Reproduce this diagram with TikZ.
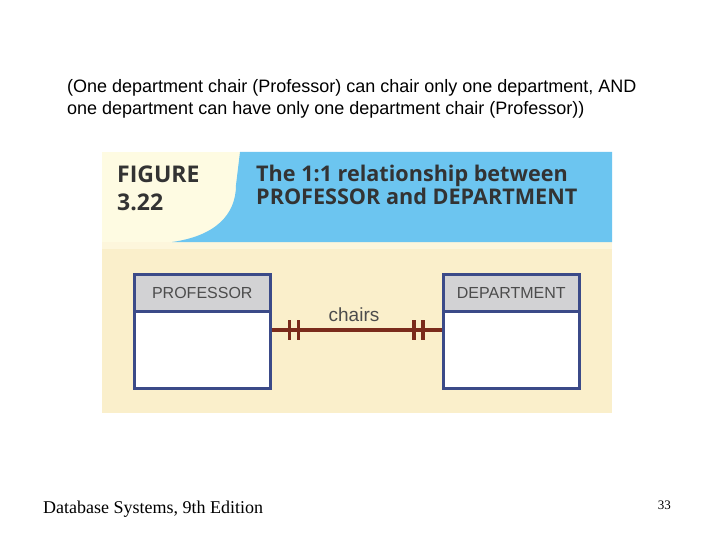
\documentclass[tikz,border=0pt]{standalone}
\usepackage{fontspec}
\setmainfont{Liberation Sans}
\newfontfamily\serifx{Liberation Serif}
\newfontfamily\figfont{Open Sans}
\definecolor{hdrblue}{HTML}{6CC5F0}
\definecolor{cream}{HTML}{FAEFCB}
\definecolor{palecream}{HTML}{FEFBE2}
\definecolor{strip}{HTML}{FDF6DC}
\definecolor{boxhead}{HTML}{D2D2D4}
\definecolor{navy}{HTML}{3B4A88}
\definecolor{rel}{HTML}{7A2B1C}
\definecolor{figtext}{HTML}{333333}
\tikzset{
  entbox/.style={draw=navy, line width=2.6pt, fill=white, minimum width=136pt, minimum height=114pt, inner sep=0pt},
  enthead/.style={draw=navy, line width=2.6pt, fill=boxhead, minimum width=136pt, minimum height=37pt, inner sep=0pt, font=\fontsize{16}{18}\selectfont, text=black!70},
  relline/.style={draw=rel, line width=4pt},
  tick/.style={draw=rel, line width=3.2pt},
}
\begin{document}
\begin{tikzpicture}[x=1pt,y=-1pt]
\useasboundingbox (0,0) rectangle (720,540);
\fill[white] (0,0) rectangle (720,540);
% top text
\node[anchor=base west, inner sep=0pt, font=\fontsize{18}{22}\selectfont] (t1) at (67,93) {(One department chair (Professor) can chair only one department, AND};
\node[anchor=base west, inner sep=0pt, font=\fontsize{18}{22}\selectfont] (t2) at (67,115) {one department can have only one department chair (Professor))};
% panel
\fill[cream] (102,152) rectangle (612,413);
\fill[strip] (102,242) rectangle (612,249);
\fill[palecream] (102,152) rectangle (240,242);
\fill[hdrblue] (240,152) -- (612,152) -- (612,242) -- (172,242) .. controls (215,236) and (236,215) .. (236,185) -- (240,152) -- cycle;
\node[anchor=base west, inner sep=0pt, font=\figfont\bfseries\fontsize{23}{26}\selectfont, text=figtext] (fig) at (117,183) {FIGURE};
\node[anchor=base west, inner sep=0pt, font=\figfont\bfseries\fontsize{23}{26}\selectfont, text=figtext] (num) at (117,211) {3.22};
\node[anchor=base west, inner sep=0pt, font=\figfont\bfseries\fontsize{21.6}{24}\selectfont, text=figtext] (ttl1) at (256,182) {The 1:1 relationship between};
\node[anchor=base west, inner sep=0pt, font=\figfont\bfseries\fontsize{21.6}{24}\selectfont, text=figtext] (ttl2) at (256,205) {PROFESSOR and DEPARTMENT};
% entities
\node[entbox, anchor=north west] (prof) at (133,273) {};
\node[enthead, anchor=north west] (profh) at (133,273) {PROFESSOR};
\node[entbox, anchor=north west] (dept) at (442,273) {};
\node[enthead, anchor=north west] (depth) at (442,273) {DEPARTMENT};
% relationship
\coordinate (pa) at (prof.east |- 0,330);
\coordinate (da) at (dept.west |- 0,330);
\draw[relline] (pa) -- (da);
\draw[tick] ([xshift=18pt]pa) ++(0,-10) -- ++(0,20);
\draw[tick] ([xshift=27pt]pa) ++(0,-10) -- ++(0,20);
\draw[tick] ([xshift=-19pt]da) ++(0,-10) -- ++(0,20);
\draw[tick] ([xshift=-28pt]da) ++(0,-10) -- ++(0,20);
\node[font=\fontsize{19}{21}\selectfont, text=black!70, inner sep=0pt] (lbl) at (354,315) {chairs};
% footer
\node[anchor=base west, inner sep=0pt, font=\serifx\fontsize{18}{20}\selectfont] (foot) at (43,513) {Database Systems, 9th Edition};
\node[anchor=base east, inner sep=0pt, font=\serifx\fontsize{13}{15}\selectfont] (pg) at (671,509) {33};
\end{tikzpicture}
\end{document}
